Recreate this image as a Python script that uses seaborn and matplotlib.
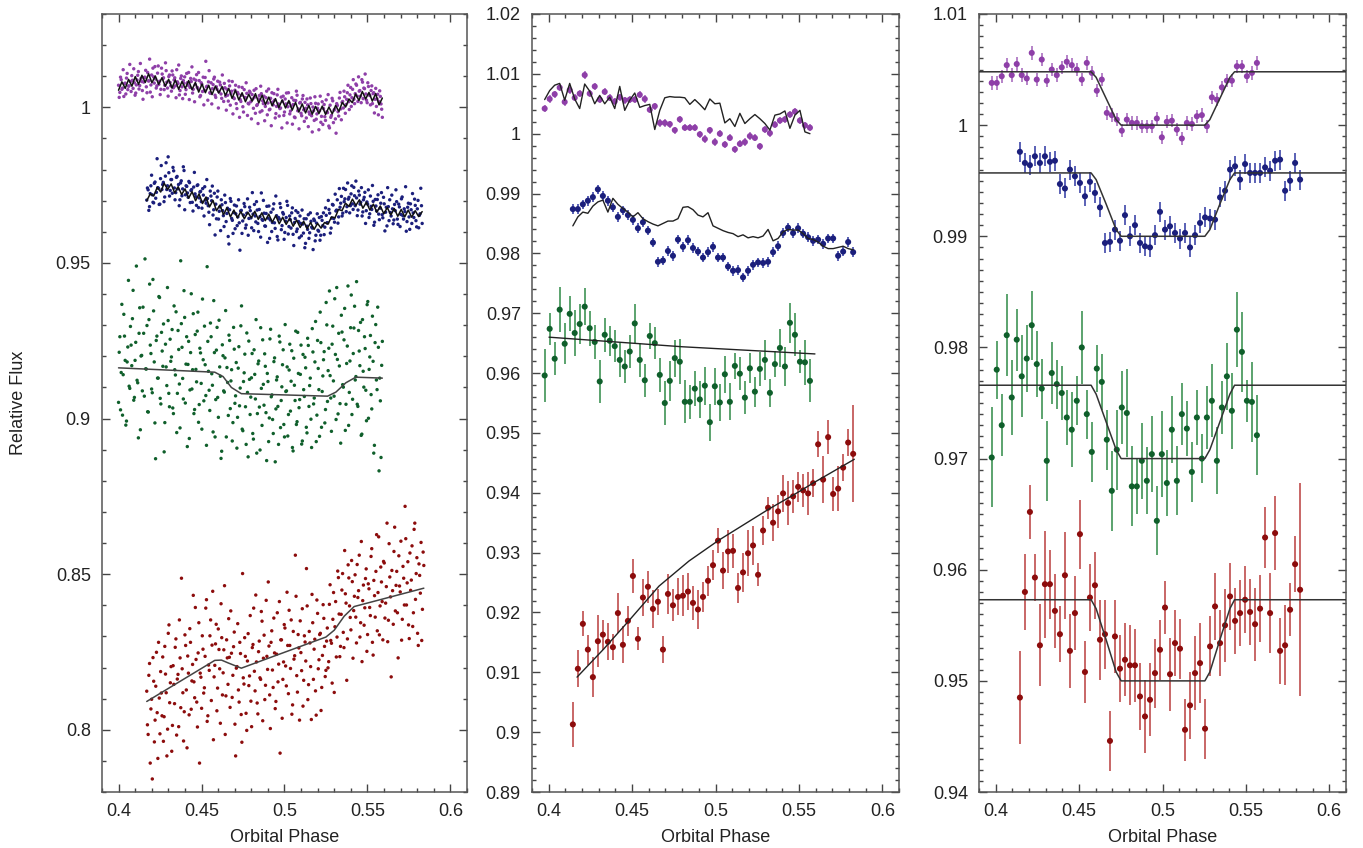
import numpy as np
import matplotlib
matplotlib.use("Agg")
import matplotlib.pyplot as plt
from matplotlib.ticker import MultipleLocator, FuncFormatter
import seaborn as sns

sns.set_style("ticks")
plt.rcParams['font.family'] = ['Liberation Sans', 'DejaVu Sans']

# colours (dot, error bar)
PURPLE = ('#8e3fa8', '#b07ac4')
BLUE = ('#1b1f7c', '#4d55b0')
GREEN = ('#0f5f2b', '#4e9c62')
RED = ('#8c0c0c', '#c45a5a')
MODEL = '#222222'

# ---------------- panel 1: unbinned light curves (flux * 1e4) ----------------
# two interleaved sets of exposures per band (a = even, b = odd)
left_purple_a = [
    10071, 10048, 10089, 10062, 10035, 10078, 10094, 10057, 10069, 10083,
    10102, 10061, 10079, 10046, 10088, 10115, 10070, 10093, 10054, 10081,
    10097, 10066, 10112, 10085, 10049, 10104, 10126, 10078, 10091, 10069,
    10133, 10084, 10058, 10107, 10095, 10071, 10118, 10062, 10099, 10080,
    10052, 10104, 10088, 10069, 10121, 10077, 10040, 10093, 10066, 10086,
    10098, 10057, 10079, 10112, 10064, 10083, 10046, 10091, 10073, 10105,
    10061, 10086, 10038, 10074, 10097, 10055, 10148, 10068, 10082, 10047,
    10079, 10060, 10091, 10039, 10066, 10084, 10050, 10072, 10029, 10061,
    10077, 10036, 10058, 10020, 10069, 10044, 10083, 10031, 10055, 10012,
    10048, 10066, 10025, 10039, 10002, 10057, 10031, 10045, 10013, 10052,
    10018, 10041, 9997, 10033, 10060, 10009, 10027, 9985, 10044, 10021,
    10036, 10003, 10052, 10014, 9992, 10029, 10047, 10008, 10023, 9980,
    10040, 10011, 9996, 10033, 10019, 9974, 10027, 10046, 10002, 10015,
    9988, 10031, 10009, 9969, 10022, 10039, 9995, 10014, 9981, 10027,
    9992, 10016, 9966, 10008, 9985, 10030, 9973, 10001, 9958, 10013,
    9979, 10011, 9989, 9952, 10018, 9996, 9970, 10024, 9983, 9940,
    10007, 9974, 10021, 9991, 9963, 10012, 9986, 10030, 9995, 10016,
    9998, 10034, 10009, 10047, 10018, 10040, 10003, 10058, 10026, 10044,
    10071, 10019, 10052, 10036, 10089, 10028, 10060, 10043, 10015, 10067,
    10038, 10054, 10012, 10047, 10026, 10003, 10042, 10018, 10035, 9994]
left_purple_b = [
    10032, 10097, 10058, 10121, 10076, 10043, 10109, 10068, 10138, 10051,
    10087, 10124, 10039, 10072, 10103, 10059, 10141, 10083, 10026, 10096,
    10119, 10047, 10085, 10155, 10072, 10034, 10098, 10131, 10062, 10110,
    10074, 10041, 10126, 10092, 10057, 10143, 10081, 10036, 10104, 10069,
    10117, 10063, 10095, 10031, 10082, 10136, 10054, 10101, 10028, 10077,
    10042, 10109, 10071, 10025, 10093, 10130, 10058, 10018, 10087, 10064,
    10112, 10034, 10079, 10051, 10008, 10096, 10066, 10023, 10118, 10045,
    10011, 10073, 10097, 10032, 10058, 9998, 10081, 10043, 10104, 10019,
    10063, 9991, 10039, 10085, 10007, 10052, 9979, 10028, 10071, 9996,
    10043, 9968, 10019, 10064, 9985, 10032, 10079, 9974, 10011, 10048,
    9963, 10027, 10055, 9981, 10006, 9948, 10038, 10068, 9989, 10012,
    9957, 10031, 9976, 10059, 9994, 9941, 10017, 10044, 9966, 10003,
    10058, 9972, 9998, 9934, 10036, 9985, 10011, 9950, 10047, 9979,
    10004, 9946, 10023, 9967, 10052, 9989, 9931, 10016, 9973, 10038,
    9955, 9997, 10027, 9938, 9978, 10012, 9921, 9989, 10034, 9962,
    9997, 9928, 10036, 9971, 9945, 10009, 9958, 9986, 10041, 9934,
    9968, 10029, 9951, 9994, 9917, 10006, 9972, 10048, 9960, 10019,
    10052, 9981, 10026, 10071, 9993, 10064, 10031, 10089, 10012, 10075,
    10036, 10098, 10054, 10015, 10081, 10062, 10107, 10023, 10079, 10041,
    10008, 10069, 10044, 9982, 10061, 10027, 9976, 10053, 10011, 9968]
left_purple_line = [
    10055, 10082, 10061, 10090, 10068, 10099, 10074, 10103, 10080, 10108,
    10079, 10101, 10074, 10095, 10068, 10090, 10062, 10088, 10058, 10083,
    10061, 10086, 10057, 10080, 10049, 10075, 10047, 10071, 10041, 10068,
    10046, 10067, 10038, 10061, 10029, 10055, 10024, 10047, 10018, 10042,
    10020, 10044, 10014, 10039, 10009, 10033, 10005, 10028, 9999, 10024,
    9998, 10022, 9991, 10016, 9985, 10011, 9982, 10006, 9978, 10003,
    9980, 10004, 9977, 10001, 9979, 10006, 9987, 10016, 10001, 10027,
    10015, 10043, 10022, 10051, 10027, 10048, 10020, 10044, 10008, 10030]

left_blue_a = [
    9702, 9735, 9681, 9748, 9719, 9693, 9760, 9727, 9742, 9688,
    9771, 9736, 9759, 9712, 9822, 9748, 9790, 9733, 9768, 9807,
    9741, 9726, 9778, 9752, 9703, 9764, 9738, 9797, 9719, 9746,
    9711, 9758, 9733, 9695, 9744, 9722, 9685, 9751, 9709, 9730,
    9676, 9718, 9745, 9692, 9707, 9663, 9731, 9700, 9654, 9724,
    9689, 9712, 9641, 9680, 9703, 9668, 9617, 9694, 9659, 9585,
    9671, 9698, 9637, 9662, 9610, 9683, 9648, 9629, 9667, 9595,
    9654, 9681, 9622, 9706, 9643, 9668, 9613, 9657, 9688, 9632,
    9670, 9601, 9649, 9725, 9637, 9660, 9618, 9682, 9644, 9579,
    9663, 9630, 9690, 9611, 9652, 9574, 9641, 9678, 9620, 9657,
    9598, 9646, 9685, 9617, 9639, 9661, 9592, 9630, 9668, 9609,
    9633, 9651, 9587, 9625, 9642, 9563, 9618, 9655, 9597, 9634,
    9612, 9641, 9571, 9628, 9605, 9646, 9589, 9637, 9661, 9615,
    9653, 9629, 9672, 9596, 9644, 9686, 9631, 9667, 9703, 9648,
    9679, 9714, 9660, 9697, 9736, 9681, 9705, 9661, 9722, 9690,
    9743, 9684, 9709, 9670, 9718, 9695, 9651, 9703, 9727, 9668,
    9689, 9646, 9715, 9672, 9698, 9631, 9683, 9704, 9657, 9676,
    9726, 9645, 9690, 9663, 9619, 9681, 9703, 9651, 9674, 9638,
    9668, 9697, 9624, 9680, 9656, 9712, 9641, 9665, 9602, 9679,
    9648, 9690, 9627, 9661, 9705, 9636, 9674, 9613, 9658, 9684]
left_blue_b = [
    9741, 9669, 9723, 9782, 9695, 9756, 9708, 9835, 9740, 9689,
    9813, 9752, 9697, 9779, 9736, 9841, 9715, 9768, 9724, 9796,
    9703, 9775, 9738, 9684, 9757, 9716, 9809, 9671, 9748, 9725,
    9762, 9694, 9736, 9667, 9791, 9713, 9749, 9678, 9728, 9697,
    9739, 9651, 9702, 9768, 9684, 9623, 9715, 9747, 9671, 9590,
    9642, 9731, 9666, 9604, 9687, 9652, 9718, 9633, 9676, 9561,
    9707, 9643, 9595, 9686, 9658, 9620, 9703, 9541, 9669, 9635,
    9691, 9612, 9660, 9589, 9679, 9645, 9726, 9604, 9651, 9697,
    9627, 9672, 9583, 9640, 9701, 9619, 9659, 9566, 9683, 9638,
    9601, 9673, 9629, 9715, 9585, 9646, 9691, 9607, 9662, 9576,
    9634, 9698, 9593, 9651, 9612, 9677, 9556, 9643, 9601, 9662,
    9581, 9627, 9670, 9596, 9549, 9642, 9608, 9579, 9661, 9615,
    9543, 9636, 9589, 9658, 9602, 9573, 9649, 9620, 9591, 9677,
    9629, 9701, 9660, 9612, 9688, 9643, 9721, 9670, 9628, 9739,
    9692, 9651, 9740, 9706, 9665, 9757, 9711, 9684, 9748, 9672,
    9716, 9763, 9652, 9731, 9689, 9742, 9664, 9711, 9627, 9696,
    9735, 9658, 9682, 9749, 9621, 9704, 9667, 9719, 9639, 9692,
    9655, 9711, 9603, 9679, 9742, 9636, 9662, 9718, 9626, 9688,
    9735, 9641, 9689, 9617, 9706, 9652, 9674, 9745, 9633, 9692,
    9608, 9671, 9723, 9646, 9685, 9616, 9701, 9653, 9740, 9627]
left_blue_line = [
    9700, 9722, 9715, 9743, 9728, 9756, 9736, 9754, 9725, 9745,
    9720, 9738, 9708, 9729, 9700, 9722, 9691, 9712, 9680, 9701,
    9668, 9686, 9655, 9677, 9648, 9670, 9645, 9665, 9642, 9663,
    9645, 9666, 9640, 9661, 9636, 9657, 9631, 9652, 9626, 9647,
    9624, 9644, 9618, 9638, 9614, 9634, 9610, 9630, 9608, 9627,
    9612, 9630, 9625, 9648, 9645, 9672, 9668, 9692, 9682, 9705,
    9685, 9703, 9676, 9695, 9670, 9689, 9663, 9683, 9658, 9678,
    9654, 9675, 9650, 9672, 9648, 9670, 9647, 9668, 9649, 9665]

left_green_a = [
    9052, 9263, 9148, 9011, 9335, 9187, 8992, 9230, 9104, 9296,
    9170, 9412, 9068, 9245, 9123, 8938, 9356, 9201, 9089, 9274,
    9513, 9159, 9022, 9318, 9236, 9095, 9447, 9182, 8871, 9265,
    9130, 9389, 9047, 9217, 9304, 8987, 9166, 9421, 9081, 9255,
    9198, 9034, 9362, 9140, 8955, 9283, 9111, 9507, 9229, 9063,
    9325, 9175, 8910, 9248, 9092, 9401, 9157, 9016, 9270, 9118,
    9342, 9045, 9211, 8966, 9189, 9297, 9074, 9488, 9152, 9026,
    9263, 9107, 9379, 8941, 9220, 9068, 9316, 9136, 8895, 9202,
    9085, 9347, 9164, 9010, 9251, 9121, 8928, 9293, 9049, 9180,
    9004, 9231, 9098, 9362, 8961, 9147, 9038, 9275, 8877, 9126,
    9069, 9209, 8934, 9142, 9318, 9016, 9185, 8899, 9097, 9253,
    9043, 9168, 8865, 9119, 9002, 9287, 9076, 8952, 9195, 9031,
    9134, 8917, 9246, 9058, 9173, 8981, 9302, 9089, 8944, 9156,
    9024, 9218, 8896, 9107, 9281, 8990, 9145, 9061, 9236, 8928,
    9093, 9197, 8972, 9258, 9039, 9130, 8907, 9214, 9066, 9312,
    9011, 9161, 8943, 9244, 9087, 9189, 8986, 9373, 9055, 9226,
    9138, 8959, 9297, 9072, 9206, 9421, 9015, 9169, 8921, 9278,
    9101, 9354, 9046, 9233, 8978, 9185, 9397, 9062, 9291, 9124,
    9440, 9039, 9217, 9309, 8950, 9152, 9263, 9091, 9366, 9001,
    9198, 9077, 9329, 8889, 9244, 9124, 9358, 8832, 9057, 9171]
left_green_b = [
    9213, 9028, 9367, 9141, 9265, 8979, 9182, 9444, 9097, 9236,
    9321, 9059, 9187, 9490, 9115, 9274, 8964, 9203, 9358, 9072,
    9160, 9299, 9021, 9432, 9209, 9083, 9346, 8986, 9251, 9130,
    9392, 9065, 9277, 9168, 8893, 9239, 9106, 9315, 9038, 9184,
    9286, 9016, 9157, 9343, 9081, 9222, 8970, 9305, 9129, 9411,
    9050, 9263, 9174, 8936, 9212, 9095, 9337, 9029, 9158, 9281,
    8988, 9226, 9113, 9384, 9057, 9173, 8914, 9248, 9091, 9307,
    9144, 8957, 9212, 9061, 9293, 9004, 9166, 8872, 9237, 9089,
    9195, 8941, 9116, 9268, 9032, 9157, 8987, 9223, 9073, 8905,
    9162, 9041, 9298, 8966, 9119, 9207, 8917, 9084, 9249, 9013,
    9131, 8952, 9221, 9063, 8889, 9176, 9037, 9292, 8978, 9110,
    9208, 9019, 9145, 8926, 9256, 9070, 8997, 9183, 8861, 9124,
    9039, 9265, 8971, 9102, 9221, 8941, 9087, 9166, 9013, 9239,
    9120, 8907, 9194, 9058, 8981, 9277, 9035, 9142, 8918, 9206,
    9071, 9163, 8954, 9235, 9106, 8998, 9289, 9047, 9182, 8926,
    9251, 9093, 9342, 8972, 9137, 9215, 9029, 9301, 9154, 9410,
    9066, 9239, 9121, 9385, 8997, 9190, 9274, 9048, 9332, 9109,
    9253, 8962, 9177, 9426, 9084, 9292, 9013, 9209, 9361, 9135,
    9046, 9283, 9170, 8946, 9318, 9101, 9225, 8993, 9376, 9158,
    9267, 9031, 9184, 8914, 9302, 9093, 9229, 9130, 8875, 9248]
left_green_model_x = [0.400, 0.458, 0.463, 0.468, 0.474, 0.526, 0.531, 0.537, 0.543, 0.559]
left_green_model_y = [0.9163, 0.9149, 0.9135, 0.9100, 0.9080, 0.9072, 0.9085, 0.9115, 0.9133, 0.9130]

left_red_a = [
    8124, 7985, 8213, 8067, 7842, 8156, 8031, 8249, 7908, 8102,
    8187, 8045, 7963, 8268, 8119, 8002, 8337, 8151, 7931, 8206,
    8084, 8292, 8163, 8010, 8231, 8487, 8119, 8058, 8271, 7942,
    8182, 8325, 8066, 8210, 8154, 8393, 8089, 8247, 7893, 8169,
    8302, 8118, 8236, 8418, 8045, 8191, 8353, 8272, 7968, 8207,
    8339, 8134, 8258, 8021, 8296, 8183, 8463, 8109, 8231, 8357,
    8072, 8246, 8175, 8314, 7916, 8203, 8128, 8281, 8049, 8502,
    8147, 8236, 7998, 8309, 8173, 8092, 8264, 8391, 8125, 8218,
    8051, 8285, 8162, 8349, 8230, 8097, 8416, 8194, 8269, 8004,
    8318, 8136, 8247, 8091, 8376, 8211, 7925, 8289, 8162, 8338,
    8205, 8442, 8116, 8271, 8353, 8080, 8227, 8561, 8174, 8306,
    8031, 8248, 8389, 8159, 8282, 8518, 8097, 8316, 8203, 8435,
    8162, 8291, 8047, 8374, 8225, 8310, 8136, 8402, 8268, 8191,
    8327, 8219, 8466, 8278, 8355, 8120, 8412, 8298, 8489, 8235,
    8371, 8502, 8264, 8437, 8159, 8530, 8398, 8321, 8476, 8383,
    8498, 8279, 8425, 8561, 8344, 8219, 8465, 8392, 8517, 8306,
    8453, 8367, 8582, 8240, 8431, 8509, 8318, 8620, 8398, 8475,
    8289, 8536, 8407, 8664, 8352, 8491, 8170, 8447, 8573, 8382,
    8509, 8231, 8462, 8606, 8355, 8487, 8718, 8401, 8540, 8293,
    8448, 8591, 8376, 8664, 8502, 8310, 8533, 8439, 8287, 8571]
left_red_b = [
    8016, 8175, 7893, 8098, 8232, 7961, 8140, 8055, 8281, 7987,
    8118, 8234, 8042, 8179, 7916, 8310, 8087, 8203, 8014, 8146,
    8265, 7983, 8178, 8353, 8071, 8196, 7964, 8305, 8128, 8237,
    8048, 8281, 8157, 8432, 8103, 8226, 8009, 8344, 8182, 8069,
    8259, 8135, 8391, 8027, 8208, 8302, 8094, 8445, 8170, 8276,
    8061, 8324, 8196, 8405, 8112, 8257, 7985, 8289, 8146, 8233,
    8382, 8104, 8267, 8018, 8198, 8341, 8089, 8245, 7960, 8167,
    8296, 8053, 8221, 8142, 8367, 8010, 8274, 8188, 8433, 8086,
    8251, 8167, 8380, 8029, 8304, 8143, 8236, 8475, 8112, 8281,
    8192, 8359, 8068, 8243, 8154, 8412, 8289, 8037, 8218, 8327,
    8141, 8271, 8384, 8197, 8050, 8316, 8238, 8429, 8121, 8263,
    8350, 8190, 8076, 8302, 8221, 8398, 8145, 8279, 8033, 8344,
    8259, 8125, 8417, 8196, 8306, 8062, 8239, 8358, 8171, 8285,
    8199, 8403, 8287, 8150, 8441, 8331, 8234, 8510, 8372, 8268,
    8449, 8313, 8576, 8407, 8292, 8488, 8361, 8544, 8230, 8429,
    8362, 8531, 8447, 8298, 8605, 8415, 8336, 8486, 8252, 8469,
    8393, 8557, 8281, 8480, 8362, 8627, 8441, 8305, 8523, 8412,
    8541, 8359, 8460, 8283, 8598, 8427, 8512, 8339, 8651, 8464,
    8376, 8559, 8443, 8288, 8525, 8401, 8614, 8472, 8337, 8568,
    8481, 8332, 8644, 8419, 8553, 8271, 8496, 8602, 8387, 8528]
left_red_model_x = [0.417, 0.458, 0.462, 0.466, 0.474, 0.525, 0.530, 0.536, 0.542, 0.584]
left_red_model_y = [0.8091, 0.8223, 0.8224, 0.8215, 0.8198, 0.8298, 0.8320, 0.8365, 0.8396, 0.8455]

# ---------------- binned data: phase bins ----------------
BIN = 0.003
START_A = 0.3976   # purple / green bins
START_B = 0.4145   # blue / red bins

# panel 2: binned, uncorrected
mid_purple = [
    1.0042, 1.0058, 1.0066, 1.0077, 1.0053, 1.0073, 1.0060, 1.0067, 1.0098, 1.0067,
    1.0079, 1.0057, 1.0070, 1.0060, 1.0054, 1.0061, 1.0056, 1.0057, 1.0057, 1.0065,
    1.0058, 1.0040, 1.0046, 1.0018, 1.0018, 1.0016, 1.0006, 1.0024, 1.0010, 1.0010,
    1.0010, 0.9999, 0.9991, 1.0006, 0.9986, 1.0000, 0.9982, 0.9993, 0.9974, 0.9983,
    0.9986, 0.9996, 0.9993, 0.9979, 1.0007, 1.0001, 1.0015, 1.0022, 1.0024, 1.0032,
    1.0037, 1.0022, 1.0014, 1.0010]
mid_purple_line = [
    1.0057, 1.0072, 1.0081, 1.0084, 1.0056, 1.0084, 1.0058, 1.0042, 1.0083, 1.0071,
    1.0050, 1.0064, 1.0050, 1.0061, 1.0042, 1.0079, 1.0039, 1.0056, 1.0068, 1.0044,
    1.0047, 1.0049, 1.0007, 1.0039, 1.0060, 1.0062, 1.0061, 1.0061, 1.0060, 1.0049,
    1.0057, 1.0049, 1.0040, 1.0058, 1.0050, 1.0051, 1.0018, 1.0025, 1.0012, 1.0034,
    1.0017, 1.0025, 1.0032, 1.0025, 1.0017, 1.0006, 1.0031, 1.0033, 1.0038, 1.0009,
    1.0031, 1.0039, 1.0003, 1.0000]
mid_purple_err = 0.0006

mid_blue = [
    0.9874, 0.9874, 0.9882, 0.9888, 0.9894, 0.9907, 0.9896, 0.9888, 0.9877, 0.9861,
    0.9872, 0.9864, 0.9856, 0.9842, 0.9852, 0.9838, 0.9818, 0.9786, 0.9788, 0.9804,
    0.9796, 0.9823, 0.9811, 0.9822, 0.9809, 0.9803, 0.9793, 0.9802, 0.9811, 0.9793,
    0.9793, 0.9778, 0.9771, 0.9772, 0.9760, 0.9771, 0.9781, 0.9785, 0.9784, 0.9786,
    0.9802, 0.9812, 0.9834, 0.9843, 0.9834, 0.9842, 0.9833, 0.9827, 0.9821, 0.9823,
    0.9816, 0.9825, 0.9825, 0.9796, 0.9803, 0.9819, 0.9802]
mid_blue_line = [
    0.9846, 0.9861, 0.9869, 0.9867, 0.9879, 0.9886, 0.9889, 0.9869, 0.9892, 0.9882,
    0.9875, 0.9869, 0.9861, 0.9868, 0.9858, 0.9853, 0.9849, 0.9846, 0.9850, 0.9854,
    0.9854, 0.9858, 0.9877, 0.9878, 0.9873, 0.9864, 0.9861, 0.9868, 0.9846, 0.9842,
    0.9838, 0.9835, 0.9833, 0.9828, 0.9831, 0.9826, 0.9828, 0.9826, 0.9829, 0.9840,
    0.9821, 0.9825, 0.9836, 0.9840, 0.9839, 0.9839, 0.9833, 0.9825, 0.9823, 0.9819,
    0.9812, 0.9808, 0.9808, 0.9810, 0.9812, 0.9808, 0.9806]
mid_blue_err = 0.0008

mid_green = [
    0.9596, 0.9674, 0.9624, 0.9706, 0.9649, 0.9699, 0.9667, 0.9682, 0.9711, 0.9675,
    0.9652, 0.9586, 0.9664, 0.9654, 0.9645, 0.9622, 0.9611, 0.9636, 0.9683, 0.9622,
    0.9588, 0.9662, 0.9650, 0.9597, 0.9550, 0.9587, 0.9625, 0.9619, 0.9552, 0.9552,
    0.9574, 0.9556, 0.9579, 0.9518, 0.9578, 0.9551, 0.9598, 0.9552, 0.9612, 0.9599,
    0.9559, 0.9608, 0.9569, 0.9607, 0.9622, 0.9567, 0.9615, 0.9642, 0.9611, 0.9684,
    0.9664, 0.9619, 0.9618, 0.9587]
mid_green_err = [
    0.0044, 0.0027, 0.0028, 0.0038, 0.0034, 0.0029, 0.0039, 0.0033, 0.0031, 0.0029,
    0.0029, 0.0036, 0.0028, 0.0025, 0.0027, 0.0028, 0.0027, 0.0028, 0.0032, 0.0029,
    0.0028, 0.0022, 0.0027, 0.0028, 0.0036, 0.0034, 0.0031, 0.0038, 0.0036, 0.0028,
    0.0029, 0.0031, 0.0032, 0.0031, 0.0031, 0.0031, 0.0031, 0.0031, 0.0022, 0.0028,
    0.0028, 0.0025, 0.0025, 0.0028, 0.0033, 0.0023, 0.0022, 0.0031, 0.0033, 0.0033,
    0.0036, 0.0019, 0.0038, 0.0036]
mid_green_model_x = [0.4002, 0.480, 0.5596]
mid_green_model_y = [0.9660, 0.9644, 0.9632]

mid_red = [
    0.9013, 0.9106, 0.9181, 0.9138, 0.9092, 0.9152, 0.9163, 0.9151, 0.9142, 0.9199,
    0.9146, 0.9186, 0.9261, 0.9156, 0.9225, 0.9243, 0.9206, 0.9218, 0.9138, 0.9231,
    0.9212, 0.9226, 0.9228, 0.9235, 0.9216, 0.9205, 0.9226, 0.9253, 0.9279, 0.9320,
    0.9270, 0.9302, 0.9303, 0.9241, 0.9267, 0.9299, 0.9312, 0.9263, 0.9337, 0.9375,
    0.9350, 0.9369, 0.9399, 0.9383, 0.9394, 0.9410, 0.9404, 0.9399, 0.9416, 0.9481,
    0.9422, 0.9493, 0.9398, 0.9407, 0.9442, 0.9484, 0.9465]
mid_red_err = [
    0.0038, 0.0031, 0.0021, 0.0025, 0.0033, 0.0043, 0.0025, 0.0031, 0.0022, 0.0034,
    0.0031, 0.0025, 0.0028, 0.0019, 0.0031, 0.0027, 0.0032, 0.0022, 0.0022, 0.0033,
    0.0027, 0.0031, 0.0034, 0.0031, 0.0028, 0.0032, 0.0025, 0.0025, 0.0025, 0.0021,
    0.0031, 0.0036, 0.0028, 0.0025, 0.0033, 0.0038, 0.0033, 0.0019, 0.0025, 0.0018,
    0.0031, 0.0028, 0.0031, 0.0036, 0.0028, 0.0025, 0.0027, 0.0036, 0.0023, 0.0022,
    0.0039, 0.0028, 0.0028, 0.0038, 0.0023, 0.0022, 0.0081]
mid_red_model_x = [0.4170, 0.4330, 0.4480, 0.4661, 0.4841, 0.5021, 0.5171, 0.5321, 0.5471, 0.5602, 0.5832]
mid_red_model_y = [0.9092, 0.9139, 0.9186, 0.9244, 0.9286, 0.9321, 0.9347, 0.9373, 0.9397, 0.9419, 0.9456]

# panel 3: binned, detrended with transit model
right_purple = [
    1.0038, 1.0038, 1.0044, 1.0054, 1.0045, 1.0055, 1.0045, 1.0042, 1.0065, 1.0041,
    1.0059, 1.0040, 1.0050, 1.0045, 1.0052, 1.0057, 1.0054, 1.0050, 1.0041, 1.0056,
    1.0047, 1.0031, 1.0041, 1.0011, 1.0009, 1.0005, 0.9995, 1.0005, 1.0002, 1.0002,
    0.9999, 0.9999, 0.9999, 1.0006, 0.9989, 1.0003, 1.0004, 0.9996, 0.9988, 1.0002,
    1.0001, 1.0008, 1.0009, 0.9999, 1.0025, 1.0023, 1.0034, 1.0040, 1.0040, 1.0053,
    1.0053, 1.0044, 1.0047, 1.0056]
right_purple_err = 0.0006
right_blue = [
    0.9976, 0.9966, 0.9964, 0.9972, 0.9966, 0.9972, 0.9967, 0.9968, 0.9947, 0.9943,
    0.9960, 0.9954, 0.9948, 0.9936, 0.9949, 0.9939, 0.9926, 0.9894, 0.9895, 0.9906,
    0.9896, 0.9919, 0.9900, 0.9910, 0.9894, 0.9891, 0.9890, 0.9901, 0.9922, 0.9906,
    0.9909, 0.9903, 0.9898, 0.9903, 0.9890, 0.9901, 0.9912, 0.9917, 0.9916, 0.9915,
    0.9935, 0.9941, 0.9960, 0.9963, 0.9951, 0.9965, 0.9957, 0.9957, 0.9957, 0.9962,
    0.9959, 0.9968, 0.9969, 0.9941, 0.9950, 0.9966, 0.9951]
right_blue_err = 0.0009
right_green = [
    0.9701, 0.9780, 0.9730, 0.9811, 0.9755, 0.9807, 0.9774, 0.9790, 0.9820, 0.9785,
    0.9763, 0.9698, 0.9777, 0.9767, 0.9759, 0.9737, 0.9726, 0.9752, 0.9800, 0.9740,
    0.9706, 0.9781, 0.9769, 0.9717, 0.9671, 0.9708, 0.9746, 0.9741, 0.9675, 0.9675,
    0.9698, 0.9680, 0.9704, 0.9644, 0.9704, 0.9678, 0.9726, 0.9680, 0.9740, 0.9727,
    0.9688, 0.9737, 0.9700, 0.9737, 0.9752, 0.9698, 0.9746, 0.9774, 0.9743, 0.9816,
    0.9796, 0.9752, 0.9751, 0.9721]
right_green_err = [
    0.0045, 0.0026, 0.0028, 0.0037, 0.0034, 0.0028, 0.0037, 0.0030, 0.0031, 0.0030,
    0.0027, 0.0036, 0.0028, 0.0022, 0.0024, 0.0025, 0.0034, 0.0022, 0.0033, 0.0022,
    0.0027, 0.0021, 0.0025, 0.0027, 0.0036, 0.0036, 0.0033, 0.0040, 0.0036, 0.0025,
    0.0034, 0.0030, 0.0034, 0.0031, 0.0039, 0.0030, 0.0030, 0.0031, 0.0028, 0.0025,
    0.0027, 0.0025, 0.0022, 0.0028, 0.0033, 0.0030, 0.0024, 0.0030, 0.0034, 0.0034,
    0.0036, 0.0019, 0.0036, 0.0036]
right_red = [
    0.9485, 0.9580, 0.9652, 0.9593, 0.9532, 0.9587, 0.9587, 0.9563, 0.9542, 0.9595,
    0.9527, 0.9561, 0.9632, 0.9508, 0.9575, 0.9586, 0.9537, 0.9542, 0.9446, 0.9540,
    0.9511, 0.9519, 0.9514, 0.9514, 0.9486, 0.9468, 0.9483, 0.9507, 0.9528, 0.9566,
    0.9506, 0.9534, 0.9529, 0.9456, 0.9478, 0.9507, 0.9516, 0.9457, 0.9531, 0.9567,
    0.9534, 0.9550, 0.9576, 0.9554, 0.9561, 0.9573, 0.9562, 0.9551, 0.9565, 0.9629,
    0.9561, 0.9633, 0.9527, 0.9532, 0.9564, 0.9605, 0.9582]
right_red_err = [
    0.0042, 0.0034, 0.0024, 0.0021, 0.0037, 0.0048, 0.0031, 0.0033, 0.0025, 0.0039,
    0.0033, 0.0033, 0.0031, 0.0028, 0.0030, 0.0030, 0.0036, 0.0031, 0.0027, 0.0033,
    0.0030, 0.0033, 0.0036, 0.0033, 0.0030, 0.0033, 0.0033, 0.0031, 0.0027, 0.0024,
    0.0033, 0.0030, 0.0027, 0.0028, 0.0030, 0.0033, 0.0036, 0.0027, 0.0027, 0.0030,
    0.0030, 0.0033, 0.0030, 0.0030, 0.0030, 0.0030, 0.0030, 0.0033, 0.0030, 0.0027,
    0.0036, 0.0033, 0.0030, 0.0036, 0.0024, 0.0025, 0.0096]

# transit models (shared contact points)
transit_x = [0.39, 0.4572, 0.4602, 0.4662, 0.4722, 0.4752,
             0.5254, 0.5284, 0.5344, 0.5404, 0.5432, 0.61]
transit_purple = [1.0048, 1.0048, 1.0043, 1.0024, 1.0005, 1.0000,
                  1.0000, 1.0005, 1.0024, 1.0043, 1.0048, 1.0048]
transit_blue = [0.9957, 0.9957, 0.9951, 0.9929, 0.9906, 0.9900,
                0.9900, 0.9906, 0.9929, 0.9951, 0.9957, 0.9957]
transit_green = [0.9766, 0.9766, 0.9758, 0.9733, 0.9708, 0.9700,
                 0.9700, 0.9708, 0.9733, 0.9758, 0.9766, 0.9766]
transit_red = [0.9573, 0.9573, 0.9565, 0.9537, 0.9508, 0.9500,
               0.9500, 0.9508, 0.9537, 0.9565, 0.9573, 0.9573]


def bins(start, n):
    return start + BIN * np.arange(n)


def interleave(a, b):
    return np.column_stack([a, b]).ravel() / 1e4


def style_axes(ax, ylim, ymajor, yminor):
    ax.set_xlim(0.39, 0.61)
    ax.set_ylim(*ylim)
    ax.xaxis.set_major_locator(MultipleLocator(0.05))
    ax.xaxis.set_minor_locator(MultipleLocator(0.01))
    ax.yaxis.set_major_locator(MultipleLocator(ymajor))
    ax.yaxis.set_minor_locator(MultipleLocator(yminor))
    fmt = FuncFormatter(lambda v, p: f'{v:g}')
    ax.xaxis.set_major_formatter(fmt)
    ax.yaxis.set_major_formatter(fmt)
    ax.tick_params(which='both', direction='in', top=True, right=True,
                   colors='#444444', labelcolor='#222222', width=1.0)
    ax.tick_params(which='major', length=6, labelsize=13, pad=8)
    ax.tick_params(which='minor', length=3)
    for sp in ax.spines.values():
        sp.set_color('#555555')
        sp.set_linewidth(1.1)
    ax.set_xlabel('Orbital Phase', fontsize=13, color='#222222')
    ax.xaxis.set_label_coords(0.5, -0.047)
    ax.set_ylabel('')


def binned(ax, x, y, err, colors):
    ax.errorbar(x, y, yerr=err, fmt='none', ecolor=colors[1],
                elinewidth=1.3, capsize=0, zorder=2)
    sns.scatterplot(x=x, y=y, color=colors[0], s=19, edgecolor='none',
                    ax=ax, zorder=3)


def model(ax, x, y, lw=1.0, color=MODEL):
    sns.lineplot(x=x, y=y, color=color, lw=lw, estimator=None, sort=False,
                 ax=ax, zorder=4)


def unbinned(ax, a, b, span, color):
    y = interleave(a, b)
    sns.scatterplot(x=np.linspace(span[0], span[1], len(y)), y=y,
                    color=color, s=6, edgecolor='none', ax=ax, zorder=2)


fig = plt.figure(figsize=(13.63, 8.48), dpi=100)
ax1 = fig.add_axes([0.0748, 0.066, 0.2678, 0.9175])
ax2 = fig.add_axes([0.3903, 0.066, 0.2693, 0.9175])
ax3 = fig.add_axes([0.7183, 0.066, 0.2692, 0.9175])

# panel 1
unbinned(ax1, left_purple_a, left_purple_b, (0.400, 0.559), PURPLE[0])
model(ax1, np.linspace(0.400, 0.559, len(left_purple_line)),
      np.array(left_purple_line) / 1e4, lw=1.1, color='#111111')
unbinned(ax1, left_blue_a, left_blue_b, (0.417, 0.583), BLUE[0])
model(ax1, np.linspace(0.417, 0.583, len(left_blue_line)),
      np.array(left_blue_line) / 1e4, lw=1.1, color='#111111')
unbinned(ax1, left_green_a, left_green_b, (0.400, 0.559), GREEN[0])
model(ax1, left_green_model_x, left_green_model_y, lw=1.1, color='#444444')
unbinned(ax1, left_red_a, left_red_b, (0.417, 0.584), RED[0])
model(ax1, left_red_model_x, left_red_model_y, lw=1.1, color='#444444')
style_axes(ax1, (0.78, 1.03), 0.05, 0.01)
ax1.set_ylabel('Relative Flux', fontsize=13, color='#222222')
ax1.yaxis.set_label_coords(-0.205, 0.5)

# panel 2
xa = bins(START_A, len(mid_purple))
xb = bins(START_B, len(mid_blue))
binned(ax2, xa, mid_purple, mid_purple_err, PURPLE)
model(ax2, xa, mid_purple_line)
binned(ax2, xb, mid_blue, mid_blue_err, BLUE)
model(ax2, xb, mid_blue_line)
binned(ax2, xa, mid_green, mid_green_err, GREEN)
model(ax2, mid_green_model_x, mid_green_model_y)
binned(ax2, xb, mid_red, mid_red_err, RED)
model(ax2, mid_red_model_x, mid_red_model_y)
style_axes(ax2, (0.89, 1.02), 0.01, 0.002)

# panel 3
binned(ax3, xa, right_purple, right_purple_err, PURPLE)
binned(ax3, xb, right_blue, right_blue_err, BLUE)
binned(ax3, xa, right_green, right_green_err, GREEN)
binned(ax3, xb, right_red, right_red_err, RED)
for ty in (transit_purple, transit_blue, transit_green, transit_red):
    model(ax3, transit_x, ty, lw=1.1, color='#333333')
style_axes(ax3, (0.94, 1.01), 0.01, 0.001)

fig.savefig('out.png', dpi=100)
